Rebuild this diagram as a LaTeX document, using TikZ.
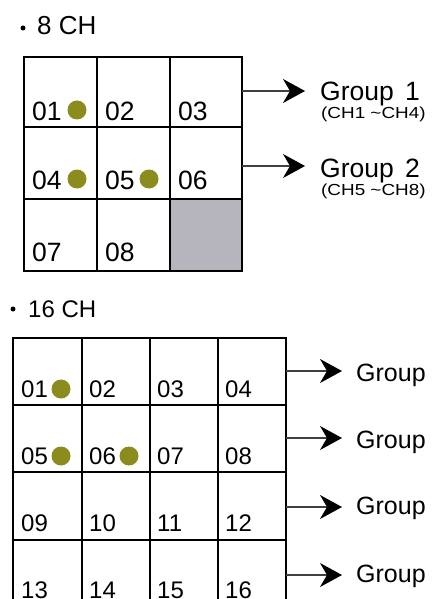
\documentclass[tikz,border=0pt]{standalone}
\usepackage{fontspec}
\setmainfont{Liberation Sans}
\usetikzlibrary{arrows.meta}
\definecolor{olivedot}{HTML}{8C8C1E}
\definecolor{emptycell}{HTML}{B6B4BC}
\definecolor{arrowline}{HTML}{404040}
\tikzset{
  gridline/.style={line width=2.3pt, black},
  cellnum/.style={anchor=base west, inner sep=0pt, font=\fontsize{26.5}{26.5}\selectfont},
  cellnumb/.style={anchor=base west, inner sep=0pt, font=\fontsize{24}{24}\selectfont},
  seldot/.style={circle, fill=olivedot, minimum size=19pt, inner sep=0pt},
  grouparrow/.style={line width=1.2pt, arrowline, -{Stealth[length=22pt,width=24pt,inset=7pt,black]}},
  grouptext/.style={anchor=base west, inner sep=0pt, font=\fontsize{26.5}{26.5}\selectfont},
  grouptextb/.style={anchor=base west, inner sep=0pt, font=\fontsize{25}{25}\selectfont},
  groupsub/.style={anchor=base west, inner sep=0pt, font=\fontsize{16}{16}\selectfont},
  titletext/.style={anchor=base west, inner sep=0pt, font=\fontsize{26}{26}\selectfont},
  titletextb/.style={anchor=base west, inner sep=0pt, font=\fontsize{24}{24}\selectfont},
  bulletdot/.style={circle, fill=black, minimum size=5pt, inner sep=0pt},
}
\begin{document}
\begin{tikzpicture}[x=1pt,y=-1pt]
\useasboundingbox (0,0) rectangle (431,599);
\fill[white] (0,0) rectangle (431,599);
\clip (0,0) rectangle (431,599);

% ---------- 8 CH ----------
\node[bulletdot] (b8) at (23,28) {};
\node[titletext] (t8) at (37,35) {8 CH};

\fill[emptycell] (170,199) rectangle (242,271);
\draw[gridline] (24,57) rectangle (242,271);
\draw[gridline] (97,57) -- (97,271);
\draw[gridline] (170,57) -- (170,271);
\draw[gridline] (24,127) -- (242,127);
\draw[gridline] (24,199) -- (242,199);

\node[cellnum] (a01) at (32,121) {01};
\node[cellnum] (a02) at (105,121) {02};
\node[cellnum] (a03) at (178,121) {03};
\node[cellnum] (a04) at (32,189) {04};
\node[cellnum] (a05) at (105,189) {05};
\node[cellnum] (a06) at (178,189) {06};
\node[cellnum] (a07) at (32,261) {07};
\node[cellnum] (a08) at (105,261) {08};

\node[seldot] (d01) at (77,110) {};
\node[seldot] (d04) at (77,179) {};
\node[seldot] (d05) at (149,179) {};

\coordinate (s1) at (242,91);
\coordinate (s2) at (242,166);
\node[grouptext] (g1) at (320,101) {Group\hspace{4pt} 1};
\node[groupsub] (g1s) at (321,118) {\scalebox{1.18}[1]{(CH1 \textasciitilde CH4)}};
\node[grouptext] (g2) at (320,177) {Group\hspace{4pt} 2};
\node[groupsub] (g2s) at (321,195) {\scalebox{1.18}[1]{(CH5 \textasciitilde CH8)}};
\coordinate (e1) at (305,91);
\coordinate (e2) at (305,166);
\draw[grouparrow] (s1) -- (e1);
\draw[grouparrow] (s2) -- (e2);

% ---------- 16 CH ----------
\node[bulletdot] (b16) at (13,309) {};
\node[titletextb] (t16) at (28,317) {16 CH};

\draw[gridline] (13,338) rectangle (286,607);
\foreach \x in {82,150,218} \draw[gridline] (\x,338) -- (\x,607);
\foreach \y in {405,472,540} \draw[gridline] (13,\y) -- (286,\y);

\node[cellnumb] (c01) at (21,397) {01};
\node[cellnumb] (c02) at (89,397) {02};
\node[cellnumb] (c03) at (157,397) {03};
\node[cellnumb] (c04) at (225,397) {04};
\node[cellnumb] (c05) at (21,464) {05};
\node[cellnumb] (c06) at (89,464) {06};
\node[cellnumb] (c07) at (157,464) {07};
\node[cellnumb] (c08) at (225,464) {08};
\node[cellnumb] (c09) at (21,531) {09};
\node[cellnumb] (c10) at (89,531) {10};
\node[cellnumb] (c11) at (157,531) {11};
\node[cellnumb] (c12) at (225,531) {12};
\node[cellnumb] (c13) at (21,598) {13};
\node[cellnumb] (c14) at (89,598) {14};
\node[cellnumb] (c15) at (157,598) {15};
\node[cellnumb] (c16) at (225,598) {16};

\node[seldot] (e01) at (61,389) {};
\node[seldot] (e05) at (61,456) {};
\node[seldot] (e06) at (129,456) {};

\foreach \y/\b [count=\i] in {371/381,438/448,507/514,575/582} {
  \coordinate (p\i) at (286,\y);
  \coordinate (q\i) at (342,\y);
  \draw[grouparrow] (p\i) -- (q\i);
  \node[grouptextb] (h\i) at (356,\b) {Group};
}
\end{tikzpicture}
\end{document}
